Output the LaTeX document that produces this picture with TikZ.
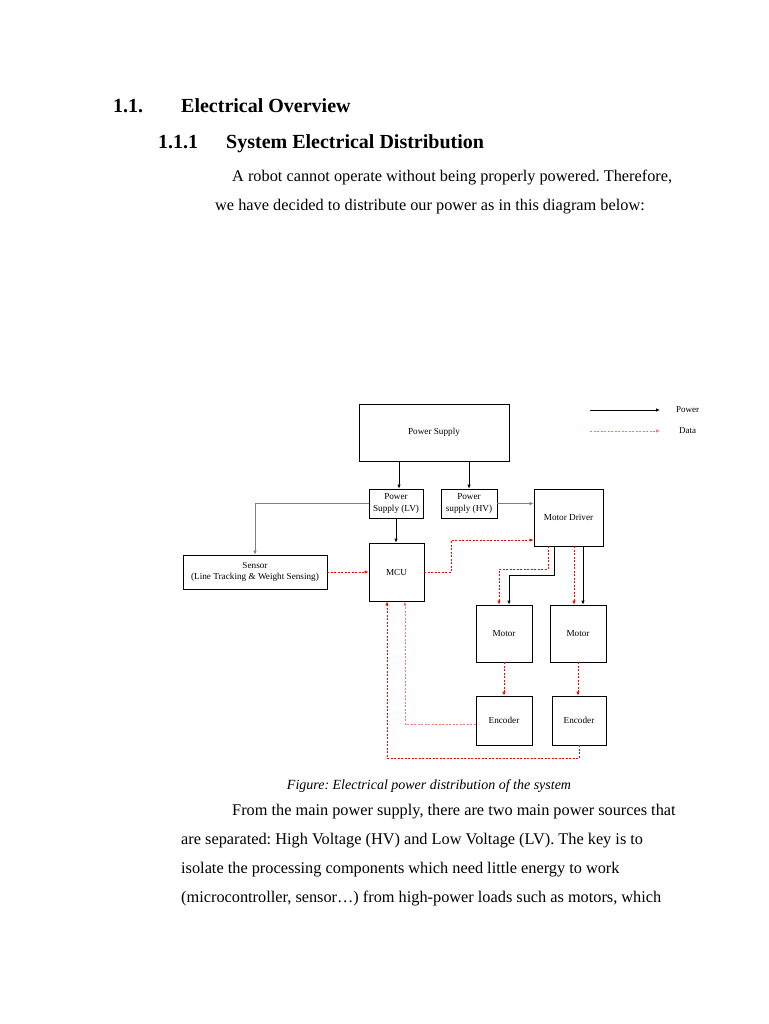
\documentclass[tikz,border=0pt]{standalone}
\usepackage{fontspec}
\setmainfont{Liberation Serif}
\usetikzlibrary{arrows.meta}
\frenchspacing
\begin{document}
\frenchspacing
\begin{tikzpicture}[x=1pt,y=-1pt,
  txt/.style={inner sep=0pt,anchor=base west,font=\fontsize{16.3}{18}\selectfont},
  hd/.style={inner sep=0pt,anchor=base west,font=\fontsize{20}{22}\selectfont\bfseries},
  blk/.style={draw=black,line width=0.8pt,inner sep=1pt,align=center,font=\fontsize{9.2}{11.5}\selectfont,fill=white},
  pw/.style={draw=black,line width=0.8pt,-{Latex[length=4pt,width=3.5pt]}},
  pwg/.style={draw=black!50,line width=0.6pt,-{Latex[length=4pt,width=3.5pt]}},
  dt/.style={draw=red,line width=0.8pt,dashed,dash pattern=on 2pt off 1.5pt,-{Latex[length=4pt,width=3.5pt]}},
  dtl/.style={draw=red!55,line width=0.7pt,dashed,dash pattern=on 2pt off 1.5pt,-{Latex[length=4pt,width=3.5pt]}}]
\useasboundingbox[fill=white] (0,0) rectangle (768,1024);

% headings and text
\node[hd] (h1n) at (113,112.5) {1.1.};
\node[hd] (h1t) at (181,112.5) {Electrical Overview};
\node[hd] (h2n) at (158,148.5) {1.1.1};
\node[hd] (h2t) at (226,148.5) {System Electrical Distribution};
\node[txt] (p1) at (232,182) {A robot cannot operate without being properly powered. Therefore,};
\node[txt] (p2) at (215,211) {we have decided to distribute our power as in this diagram below:};

% blocks
\node[blk,minimum width=150pt,minimum height=57pt] (PS) at (434,432.5) {Power Supply};
\node[blk,minimum width=54pt,minimum height=29pt] (LV) at (396,503.5) {Power\\Supply (LV)};
\node[blk,minimum width=56pt,minimum height=29pt] (HV) at (469,503.5) {Power\\supply (HV)};
\node[blk,minimum width=69pt,minimum height=57pt] (MD) at (568.5,517.5) {Motor Driver};
\node[blk,minimum width=55pt,minimum height=58pt] (MCU) at (396.5,572) {MCU};
\node[blk,minimum width=144pt,minimum height=34pt] (SE) at (255,572) {Sensor\\(Line Tracking \& Weight Sensing)};
\node[blk,minimum width=56pt,minimum height=57pt] (M1) at (504,633.5) {Motor};
\node[blk,minimum width=56pt,minimum height=57pt] (M2) at (578,633.5) {Motor};
\node[blk,minimum width=56pt,minimum height=49pt] (E1) at (504,720.5) {Encoder};
\node[blk,minimum width=54pt,minimum height=49pt] (E2) at (579,720.5) {Encoder};

% legend
\coordinate (la1) at (590,410); \coordinate (la2) at (660,410);
\coordinate (lb1) at (590,431); \coordinate (lb2) at (660,431);
\draw[pw] (la1) -- (la2);
\draw[dtl] (lb1) -- (lb2);
\node[inner sep=0pt,anchor=west,font=\fontsize{9}{10}\selectfont] (lpw) at (676,410) {Power};
\node[inner sep=0pt,anchor=west,font=\fontsize{9}{10}\selectfont] (ldt) at (679,431) {Data};

% power connectors
\draw[pw] ([xshift=-35pt]PS.south) -- ([xshift=3pt]LV.north);
\draw[pw] ([xshift=35pt]PS.south) -- (HV.north);
\draw[pwg] (HV.east) -- (HV.east -| MD.west);
\draw[pw] (LV.south) -- (LV.south |- MCU.north);
\draw[pwg] (LV.west) -| (SE.north);
\draw[pw] ([xshift=-14.5pt]MD.south) -- ++(0,29) -| ([xshift=5pt]M1.north);
\draw[pw] ([xshift=14.5pt]MD.south) -- ([xshift=5pt]M2.north);

% data connectors
\draw[dt] (SE.east) -- (SE.east -| MCU.west);
\draw[dt] (MCU.east) -- ++(27,0) |- ([yshift=-22.5pt]MD.west);
\draw[dt] ([xshift=-20.5pt]MD.south) -- ++(0,23) -| ([xshift=-5pt]M1.north);
\draw[dt] ([xshift=5.5pt]MD.south) -- ([xshift=-4pt]M2.north);
\draw[dt] (M1.south) -- (E1.north);
\draw[dt] (M2.south) -- ([xshift=-1pt]E2.north);
\draw[dtl] ([yshift=-3.5pt]E1.west) -| ([xshift=8.5pt]MCU.south);
\draw[dt] (E2.south) -- ++(0,13) -| ([xshift=-9.5pt]MCU.south);

% caption and paragraph
\node[inner sep=0pt,anchor=base,font=\fontsize{14}{16}\selectfont\itshape] (cap) at (429,789) {Figure: Electrical power distribution of the system};
\node[txt] (q1) at (232,815) {From the main power supply, there are two main power sources that};
\node[txt] (q2) at (181,844.5) {are separated: High Voltage (HV) and Low Voltage (LV). The key is to};
\node[txt] (q3) at (181,873.5) {isolate the processing components which need little energy to work};
\node[txt] (q4) at (181,902) {(microcontroller, sensor\ldots) from high-power loads such as motors, which};
\end{tikzpicture}
\end{document}
